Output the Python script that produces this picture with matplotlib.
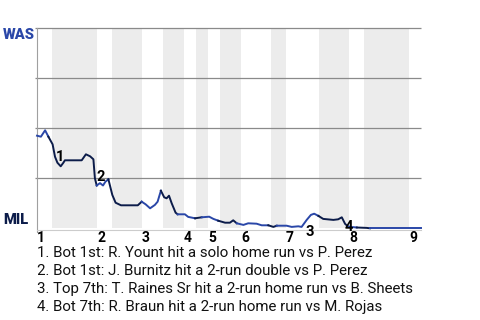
import matplotlib
matplotlib.use("Agg")
from matplotlib import pyplot as plt

plt.rcParams["font.family"] = ["Roboto", "DejaVu Sans"]

# play index and Washington win probability (0 = MIL wins, 1 = WAS wins)
plays = [0, 1.3, 2.7, 3.8, 5.2, 6, 6.8, 7.9, 8.8, 9.3, 14.9, 16.3, 17.7, 18.8,
         19.3, 19.9, 21, 22, 22.8, 23.8, 25.1, 26.2, 28, 33.6, 34.9, 36.2, 37.7,
         39.3, 40.2, 41.3, 42.4, 43.2, 44, 44.9, 46.2, 46.9, 49.3, 50.4, 52.7,
         54.9, 57.4, 58.8, 60.4, 62.7, 64.3, 65.4, 66.6, 68.8, 70.4, 73.2, 74.9,
         77.1, 78.8, 79.9, 83.2, 84.9, 87.1, 88.2, 89.9, 91.3, 92.4, 93.8, 95.4,
         98.8, 100.4, 101.6, 102.7, 103.8, 106.6, 109.9, 111, 128]
was_wp = [0.463, 0.458, 0.49, 0.458, 0.42, 0.358, 0.328, 0.31, 0.328, 0.34,
          0.34, 0.37, 0.36, 0.345, 0.25, 0.214, 0.226, 0.214, 0.233, 0.245,
          0.167, 0.128, 0.115, 0.115, 0.133, 0.12, 0.10, 0.117, 0.133, 0.188,
          0.155, 0.15, 0.163, 0.125, 0.078, 0.07, 0.07, 0.057, 0.05, 0.055,
          0.058, 0.047, 0.038, 0.028, 0.028, 0.04, 0.025, 0.017, 0.025, 0.023,
          0.015, 0.015, 0.007, 0.013, 0.013, 0.007, 0.01, 0.007, 0.042, 0.067,
          0.073, 0.062, 0.047, 0.042, 0.045, 0.055, 0.022, 0.008, 0.004, 0.002,
          0.0, 0.0]

# start of each half inning (top 1st, bot 1st, top 2nd, ...)
half_starts = [0, 5, 20, 25, 35, 42, 49, 53, 57, 61, 68, 78, 83, 94, 104, 109, 124]
n_plays = 128
innings = ["1", "2", "3", "4", "5", "6", "7", "8", "9"]

# key plays
event_x = [7.7, 21.3, 90.8, 103.8]
event_y = [0.355, 0.258, -0.02, 0.005]
events = [
    "1. Bot 1st: R. Yount hit a solo home run vs P. Perez",
    "2. Bot 1st: J. Burnitz hit a 2-run double vs P. Perez",
    "3. Top 7th: T. Raines Sr hit a 2-run home run vs B. Sheets",
    "4. Bot 7th: R. Braun hit a 2-run home run vs M. Rojas",
]

was_color = "#2a47a8"
mil_color = "#0c1c4a"

fig = plt.figure(figsize=(4.8, 3.2), dpi=100)
ax = fig.add_axes([37 / 480, (320 - 228.3) / 320, 384 / 480, 200 / 320])
ax.set_xlim(0, n_plays)
ax.set_ylim(0, 1)

# shade bottom halves, colour the line by who is batting
bounds = half_starts + [n_plays]
for i in range(len(half_starts)):
    x0, x1 = bounds[i], bounds[i + 1]
    bottom = i % 2 == 1
    if bottom:
        ax.axvspan(x0, x1, color="#ececec", lw=0, zorder=0)
    seg_x, seg_y = [], []
    for j, x in enumerate(plays):
        if x0 <= x <= x1 or (j + 1 < len(plays) and plays[j + 1] > x0 and x < x0):
            seg_x.append(x)
            seg_y.append(was_wp[j])
    ax.plot(seg_x, seg_y, color=mil_color if bottom else was_color,
            lw=1.4, zorder=3, clip_on=False, solid_joinstyle="round")

# grid
for lev in [0.25, 0.5, 0.75, 1.0]:
    ax.hlines(lev, -0.8, n_plays, color="#8a8a8a", lw=0.9, zorder=1, clip_on=False)

for s in ["top", "right"]:
    ax.spines[s].set_visible(False)
ax.spines["left"].set_color("#a0a0a0")
ax.spines["left"].set_bounds(-0.02, 1)
ax.spines["bottom"].set_color("#cccccc")
ax.spines["bottom"].set_position(("data", -0.006))
ax.set_xticks([])
ax.set_yticks([])

# inning numbers
for k, lab in enumerate(innings):
    ax.text(half_starts[2 * k], -0.07, lab, ha="left", va="baseline",
            fontsize=10, fontweight="bold", color="black", clip_on=False)

# event markers
for k in range(len(event_x)):
    ax.text(event_x[k], event_y[k], str(k + 1), ha="center", va="center",
            fontsize=10.5, fontweight="bold", color="black", zorder=5)

fig.text(3 / 480, (320 - 28) / 320, "WAS", ha="left", va="top",
         fontsize=10.5, fontweight="heavy", color=was_color)
fig.text(3 / 480, (320 - 224) / 320, "MIL", ha="left", va="baseline",
         fontsize=10.5, fontweight="heavy", color=mil_color)

for k, line in enumerate(events):
    fig.text(37 / 480, (320 - 257 - 18 * k) / 320, line, ha="left",
             va="baseline", fontsize=10.8, color="#111111")

fig.savefig("out.png", dpi=100)
